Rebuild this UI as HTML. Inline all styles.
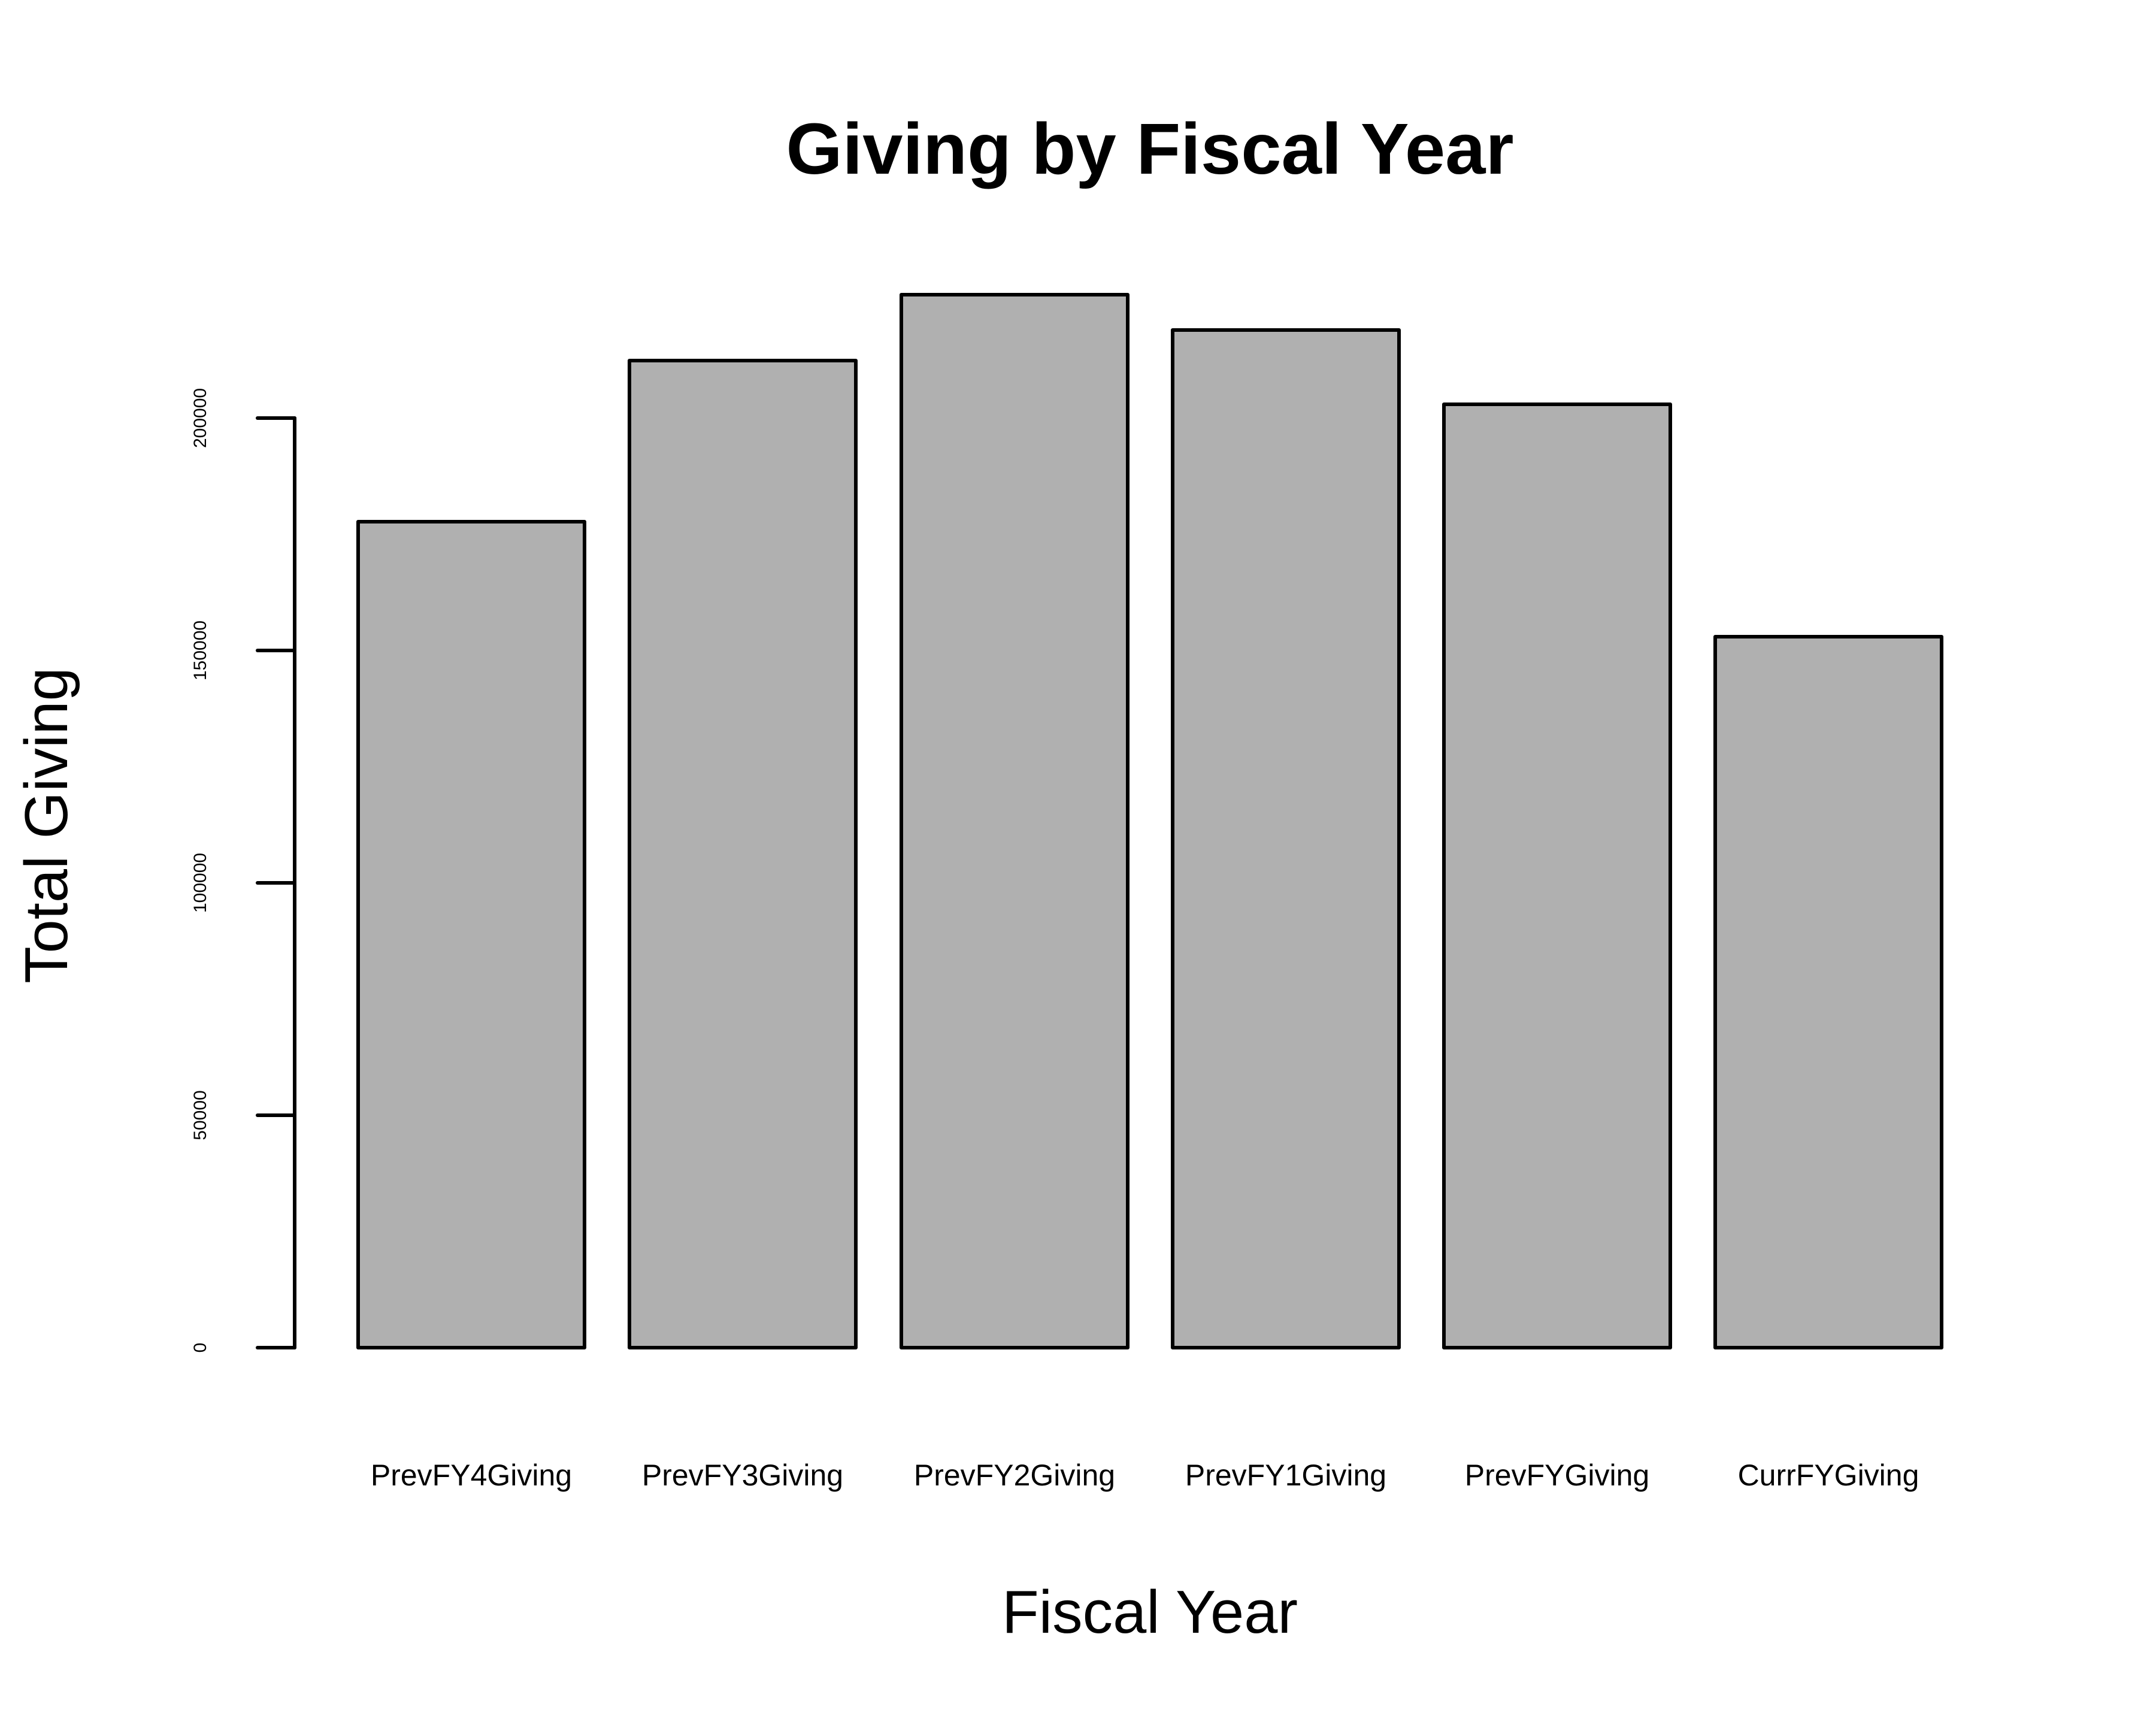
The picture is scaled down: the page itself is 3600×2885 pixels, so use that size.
<!DOCTYPE html>
<html><head><meta charset="utf-8"><style>html,body{margin:0;padding:0;background:#fff}</style></head>
<body>
<svg width="3600" height="2880" viewBox="0 0 3600 2880" xmlns="http://www.w3.org/2000/svg" font-family="Liberation Sans, Arial, sans-serif">
<rect width="3600" height="2880" fill="#fff"/>
<text x="1920" y="290" font-size="121" font-weight="bold" text-anchor="middle">Giving by Fiscal Year</text>
<g fill="#b0b0b0" stroke="#000" stroke-width="6" stroke-linejoin="round">
<rect x="598" y="871" width="378" height="1379"/>
<rect x="1051" y="602" width="378" height="1648"/>
<rect x="1505" y="492" width="378" height="1758"/>
<rect x="1958" y="551" width="378" height="1699"/>
<rect x="2411" y="675" width="378" height="1575"/>
<rect x="2864" y="1063" width="378" height="1187"/>
</g>
<g stroke="#000" stroke-width="6" stroke-linecap="round" fill="none">
<line x1="492" y1="698" x2="492" y2="2250"/>
<line x1="430" y1="2250" x2="492" y2="2250"/>
<line x1="430" y1="1862" x2="492" y2="1862"/>
<line x1="430" y1="1474" x2="492" y2="1474"/>
<line x1="430" y1="1086" x2="492" y2="1086"/>
<line x1="430" y1="698" x2="492" y2="698"/>
</g>
<g font-size="30" text-anchor="middle">
<text transform="translate(344,2250) rotate(-90)">0</text>
<text transform="translate(344,1862) rotate(-90)">50000</text>
<text transform="translate(344,1474) rotate(-90)">100000</text>
<text transform="translate(344,1086) rotate(-90)">150000</text>
<text transform="translate(344,698) rotate(-90)">200000</text>
</g>
<g font-size="50" text-anchor="middle">
<text x="787" y="2480">PrevFY4Giving</text>
<text x="1240" y="2480">PrevFY3Giving</text>
<text x="1694" y="2480">PrevFY2Giving</text>
<text x="2147" y="2480">PrevFY1Giving</text>
<text x="2600" y="2480">PrevFYGiving</text>
<text x="3053" y="2480">CurrFYGiving</text>
</g>
<text x="1920" y="2726" font-size="101" text-anchor="middle">Fiscal Year</text>
<text transform="translate(112,1378) rotate(-90)" font-size="101" text-anchor="middle">Total Giving</text>
</svg>
</body></html>
